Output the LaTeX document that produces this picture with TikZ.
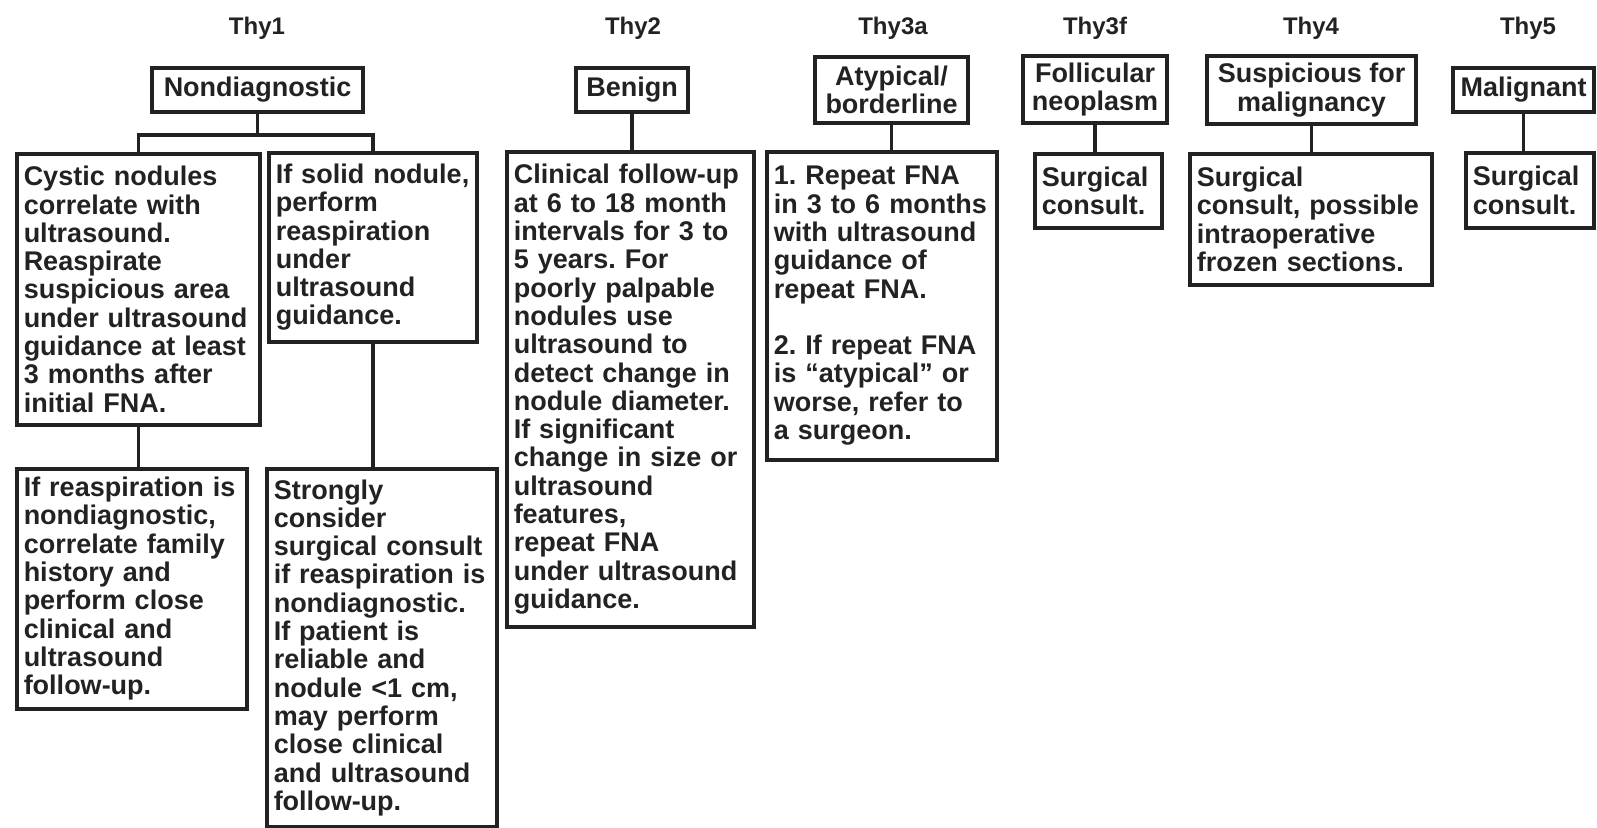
\documentclass[tikz,border=0pt]{standalone}
\usepackage{fontspec}
\setmainfont{Liberation Sans}
\frenchspacing
\definecolor{ink}{HTML}{222222}
\tikzset{
  every node/.style={text=ink, font=\fontsize{27}{28.3}\selectfont\bfseries},
  lab/.style={draw=ink, line width=3.5pt, inner sep=0pt, align=center},
  body/.style={draw=ink, line width=3.5pt, anchor=north west, align=left, inner xsep=7pt, inner ysep=0pt},
  ttl/.style={font=\fontsize{24}{26}\selectfont\bfseries},
  link/.style={draw=ink, line width=3.5pt},
}
\begin{document}
\begin{tikzpicture}[x=1pt,y=-1pt]
\useasboundingbox (0,0) rectangle (1597,827);
% titles
\node[ttl] (t1) at (257,28) {Thy1};
\node[ttl] (t2) at (633,28) {Thy2};
\node[ttl] (t3a) at (893,28) {Thy3a};
\node[ttl] (t3f) at (1095,28) {Thy3f};
\node[ttl] (t4) at (1311,28) {Thy4};
\node[ttl] (t5) at (1528,28) {Thy5};
% level 1
\node[lab, minimum width=211pt, minimum height=44pt] (nd) at (257.5,90) {Nondiagnostic};
\node[lab, minimum width=112pt, minimum height=44pt] (ben) at (632,90) {Benign};
\node[lab, minimum width=153pt, minimum height=66pt] (aty) at (891.5,90) {Atypical/\\borderline};
\node[lab, minimum width=144pt, minimum height=67pt] (fol) at (1095,89.5) {Follicular\\neoplasm};
\node[lab, minimum width=209pt, minimum height=68pt] (sus) at (1311.5,90) {Suspicious for\\malignancy};
\node[lab, minimum width=141pt, minimum height=44pt] (mal) at (1523.5,90) {Malignant};
% level 2
\node[body, text width=229pt, minimum height=271pt] (a) at (15,152) {Cystic nodules\\correlate with\\ultrasound.\\Reaspirate\\suspicious area\\under ultrasound\\guidance at least\\3 months after\\initial FNA.};
\node[body, text width=194pt, minimum height=189pt] (b) at (267,151) {If solid nodule,\\perform\\reaspiration\\under\\ultrasound\\guidance.};
\node[body, text width=233pt, minimum height=475pt] (e) at (505,150) {Clinical follow-up\\at 6 to 18 month\\intervals for 3 to\\5 years. For\\poorly palpable\\nodules use\\ultrasound to\\detect change in\\nodule diameter.\\If significant\\change in size or\\ultrasound\\features,\\repeat FNA\\under ultrasound\\guidance.};
\node[body, text width=216pt, minimum height=308pt] (f) at (765,150) {1. Repeat FNA\\in 3 to 6 months\\with ultrasound\\guidance of\\repeat FNA.\\[28.3pt]2. If repeat FNA\\is “atypical” or\\worse, refer to\\a surgeon.};
\node[body, text width=113pt, minimum height=74pt] (g) at (1033,152) {Surgical\\consult.};
\node[body, text width=228pt, minimum height=131pt] (h) at (1188,152) {Surgical\\consult, possible\\intraoperative\\frozen sections.};
\node[body, text width=114pt, minimum height=75pt] (i) at (1464,151) {Surgical\\consult.};
% level 3
\node[body, text width=216pt, minimum height=240pt] (c) at (15,467) {If reaspiration is\\nondiagnostic,\\correlate family\\history and\\perform close\\clinical and\\ultrasound\\follow-up.};
\node[body, text width=216pt, minimum height=358pt] (d) at (265,467) {Strongly\\consider\\surgical consult\\if reaspiration is\\nondiagnostic.\\If patient is\\reliable and\\nodule <1 cm,\\may perform\\close clinical\\and ultrasound\\follow-up.};
% connectors
\path (nd.south) ++(0,21) coordinate (ndj);
\draw[link] (nd.south) -- (ndj);
\draw[link] (a.north) |- (ndj) -| (b.north);
\draw[link] (a.south) -- (a.south |- c.north);
\draw[link] (b.south) -- (b.south |- d.north);
\draw[link] (ben.south) -- (ben.south |- e.north);
\draw[link] (aty.south) -- (aty.south |- f.north);
\draw[link] (fol.south) -- (fol.south |- g.north);
\draw[link] (sus.south) -- (sus.south |- h.north);
\draw[link] (mal.south) -- (mal.south |- i.north);
\end{tikzpicture}
\end{document}
